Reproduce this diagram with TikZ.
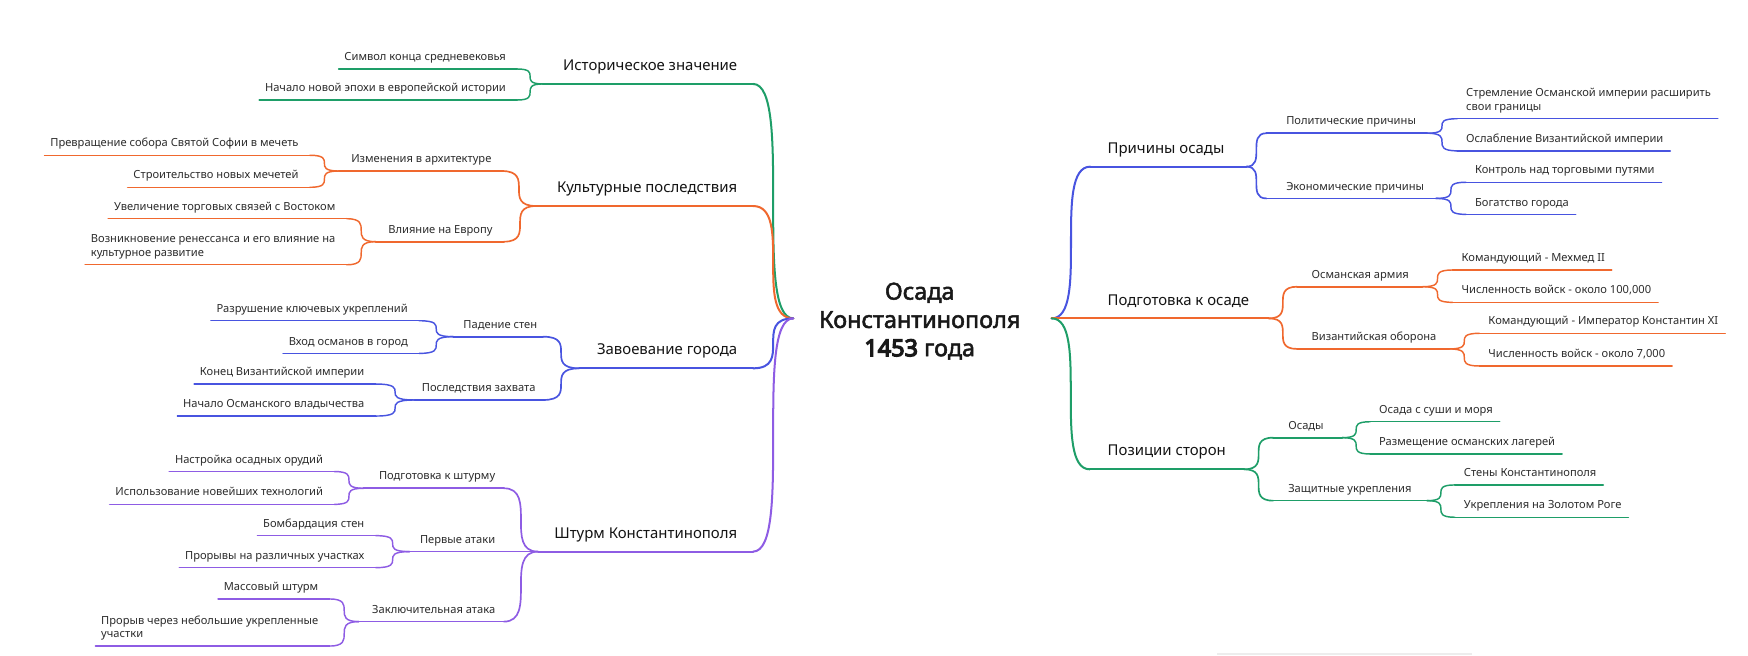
\documentclass[tikz,border=0pt]{standalone}
\usepackage{fontspec}
\setmainfont{Noto Sans}
\usetikzlibrary{calc}
\definecolor{cgreen}{RGB}{30,158,104}
\definecolor{corange}{RGB}{240,104,46}
\definecolor{cblue}{RGB}{72,84,224}
\definecolor{cpurple}{RGB}{142,92,228}
\definecolor{txt}{RGB}{45,45,45}
\newcommand\heavytext[2][0.45]{\special{pdf:literal direct 2 Tr #1 w}#2\special{pdf:literal direct 0 Tr 1 w}}
\tikzset{
  leaf/.style={inner sep=0pt, font=\fontsize{10}{12}\selectfont, text=txt},
  sub/.style={inner sep=0pt, font=\fontsize{10}{12}\selectfont, text=txt},
  mainlbl/.style={inner sep=0pt, font=\fontsize{13.4}{16}\selectfont, text=black!92},
  rootlbl/.style={inner sep=0pt, align=center, font=\fontsize{21}{25.4}\selectfont, text=black!90},
  lw3/.style={line width=1.3pt, line cap=round},
  lw2/.style={line width=1.5pt, line cap=round},
  lw1/.style={line width=1.8pt, line cap=round},
  br/.style={to path={.. controls (\tikztotarget |- \tikztostart) and (\tikztostart |- \tikztotarget) .. (\tikztotarget)}},
}
% leaf on the left side: name, colour, inner x, line y, text
\newcommand\LeafL[5]{%
  \coordinate (#1i) at (#3,#4);
  \node[leaf, anchor=base east] (#1) at ($(#1i)+(-10,-7.5)$) {#5};
  \draw[#2, lw3] (#1i) -- ($(#1i -| #1.west)+(-5,0)$);
}
\newcommand\LeafLtwo[5]{%
  \coordinate (#1i) at (#3,#4);
  \node[leaf, anchor=south east, align=left] (#1) at ($(#1i)+(-10,-5)$) {#5};
  \draw[#2, lw3] (#1i) -- ($(#1i -| #1.west)+(-5,0)$);
}
\newcommand\LeafR[5]{%
  \coordinate (#1i) at (#3,#4);
  \node[leaf, anchor=base west] (#1) at ($(#1i)+(8,-7.5)$) {#5};
  \draw[#2, lw3] (#1i) -- ($(#1i -| #1.east)+(6,0)$);
}
\newcommand\LeafRtwo[5]{%
  \coordinate (#1i) at (#3,#4);
  \node[leaf, anchor=south west, align=left] (#1) at ($(#1i)+(8,-5)$) {#5};
  \draw[#2, lw3] (#1i) -- ($(#1i -| #1.east)+(6,0)$);
}
% middle level: name, colour, inner x, outer x, y, text x, text
\newcommand\MidL[7]{%
  \coordinate (#1i) at (#3,#5);
  \coordinate (#1o) at (#4,#5);
  \node[sub, anchor=base east] (#1) at (#6,#5-7.5) {#7};
  \draw[#2, lw2] (#1i) -- (#1o);
}
\newcommand\MidR[7]{%
  \coordinate (#1i) at (#3,#5);
  \coordinate (#1o) at (#4,#5);
  \node[sub, anchor=base west] (#1) at (#6,#5-7.5) {#7};
  \draw[#2, lw2] (#1i) -- (#1o);
}
% first level: name, colour, inner x, outer x, y, text
\newcommand\MainL[6]{%
  \coordinate (#1i) at (#3,#5);
  \coordinate (#1o) at (#4,#5);
  \node[mainlbl, anchor=base east] (#1) at (661.5,#5-12) {#6};
  \draw[#2, lw1] (#1i) -- (#1o);
}
\newcommand\MainR[6]{%
  \coordinate (#1i) at (#3,#5);
  \coordinate (#1o) at (#4,#5);
  \node[mainlbl, anchor=base west] (#1) at (993.4,#5-12) {#6};
  \draw[#2, lw1] (#1i) -- (#1o);
}
\begin{document}
\begin{tikzpicture}[x=1pt,y=-1pt]
\fill[white] (0,0) rectangle (1568,588);
\useasboundingbox (0,0) rectangle (1568,588);

\node[rootlbl] (root) at (825,288) {\heavytext{Осада}\\\heavytext{Константинополя}\\\heavytext[1.1]{1453} \heavytext{года}};
\coordinate (hubL) at (711.6,285.6);
\coordinate (hubR) at (943.4,285.6);

% ---------- left: Историческое значение ----------
\MainL{H}{cgreen}{675.5}{487}{75.3}{Историческое значение}
\draw[cgreen,lw1] (hubL) to[br] (Hi);
\LeafL{Ha}{cgreen}{464}{61.9}{Символ конца средневековья}
\LeafL{Hb}{cgreen}{464}{89.7}{Начало новой эпохи в европейской истории}
\draw[cgreen,lw3] (Ho) to[br] (Hai);
\draw[cgreen,lw3] (Ho) to[br] (Hbi);

% ---------- left: Культурные последствия ----------
\MainL{C}{corange}{675.5}{481}{184.8}{Культурные последствия}
\draw[corange,lw1] (hubL) to[br] (Ci);
\MidL{Ca}{corange}{450}{304}{153.4}{441}{Изменения в архитектуре}
\MidL{Cb}{corange}{452}{337}{216.8}{442}{Влияние на Европу}
\draw[corange,lw2] (Co) to[br] (Cai);
\draw[corange,lw2] (Co) to[br] (Cbi);
\LeafL{Caa}{corange}{278}{139.3}{Превращение собора Святой Софии в мечеть}
\LeafL{Cab}{corange}{278}{168}{Строительство новых мечетей}
\draw[corange,lw3] (Cao) to[br] (Caai);
\draw[corange,lw3] (Cao) to[br] (Cabi);
\LeafL{Cba}{corange}{311}{196.2}{Увеличение торговых связей с Востоком}
\LeafLtwo{Cbb}{corange}{311}{237.5}{Возникновение ренессанса и его влияние на\\культурное развитие}
\draw[corange,lw3] (Cbo) to[br] (Cbai);
\draw[corange,lw3] (Cbo) to[br] (Cbbi);

% ---------- left: Завоевание города ----------
\MainL{Z}{cblue}{675.5}{519.6}{330.4}{Завоевание города}
\draw[cblue,lw1] (hubL) to[br] (Zi);
\MidL{Za}{cblue}{487}{406.6}{302}{482}{Падение стен}
\MidL{Zb}{cblue}{487}{371.8}{358.8}{480.6}{Последствия захвата}
\draw[cblue,lw2] (Zo) to[br] (Zai);
\draw[cblue,lw2] (Zo) to[br] (Zbi);
\LeafL{Zaa}{cblue}{376}{287.7}{Разрушение ключевых укреплений}
\LeafL{Zab}{cblue}{376}{317}{Вход османов в город}
\draw[cblue,lw3] (Zao) to[br] (Zaai);
\draw[cblue,lw3] (Zao) to[br] (Zabi);
\LeafL{Zba}{cblue}{337}{344.5}{Конец Византийской империи}
\LeafL{Zbb}{cblue}{337}{373.2}{Начало Османского владычества}
\draw[cblue,lw3] (Zbo) to[br] (Zbai);
\draw[cblue,lw3] (Zbo) to[br] (Zbbi);

% ---------- left: Штурм Константинополя ----------
\MainL{S}{cpurple}{675.5}{482.6}{494.8}{Штурм Константинополя}
\draw[cpurple,lw1] (hubL) to[br] (Si);
\MidL{Sa}{cpurple}{452}{326}{438}{444.4}{Подготовка к штурму}
\MidL{Sb}{cpurple}{482.6}{367.4}{494.8}{444.4}{Первые атаки}
\MidL{Sc}{cpurple}{452}{321.8}{557.6}{444.4}{Заключительная атака}
\draw[cpurple,lw2] (So) to[br] (Sai);
\draw[cpurple,lw2] (So) -- (Sbi);
\draw[cpurple,lw2] (So) to[br] (Sci);
\LeafL{Saa}{cpurple}{300}{423}{Настройка осадных орудий}
\LeafL{Sab}{cpurple}{300}{452.4}{Использование новейших технологий}
\draw[cpurple,lw3] (Sao) to[br] (Saai);
\draw[cpurple,lw3] (Sao) to[br] (Sabi);
\LeafL{Sba}{cpurple}{337}{480.5}{Бомбардация стен}
\LeafL{Sbb}{cpurple}{337}{509.2}{Прорывы на различных участках}
\draw[cpurple,lw3] (Sbo) to[br] (Sbai);
\draw[cpurple,lw3] (Sbo) to[br] (Sbbi);
\LeafL{Sca}{cpurple}{295.7}{537.3}{Массовый штурм}
\LeafLtwo{Scb}{cpurple}{295.7}{579.5}{Прорыв через небольшие укрепленные\\участки}
\draw[cpurple,lw3] (Sco) to[br] (Scai);
\draw[cpurple,lw3] (Sco) to[br] (Scbi);

% ---------- right: Причины осады ----------
\MainR{P}{cblue}{978}{1118}{149.5}{Причины осады}
\draw[cblue,lw1] (hubR) to[br] (Pi);
\MidR{Pa}{cblue}{1136}{1280}{119.5}{1153.6}{Политические причины}
\MidR{Pb}{cblue}{1136}{1288}{178}{1153.6}{Экономические причины}
\draw[cblue,lw2] (Po) to[br] (Pai);
\draw[cblue,lw2] (Po) to[br] (Pbi);
\LeafRtwo{Paa}{cblue}{1307}{106.5}{Стремление Османской империи расширить\\свои границы}
\LeafR{Pab}{cblue}{1307}{135.3}{Ослабление Византийской империи}
\draw[cblue,lw3] (Pao) to[br] (Paai);
\draw[cblue,lw3] (Pao) to[br] (Pabi);
\LeafR{Pba}{cblue}{1315}{163.5}{Контроль над торговыми путями}
\LeafR{Pbb}{cblue}{1315}{192.3}{Богатство города}
\draw[cblue,lw3] (Pbo) to[br] (Pbai);
\draw[cblue,lw3] (Pbo) to[br] (Pbbi);

% ---------- right: Подготовка к осаде ----------
\MainR{G}{corange}{943.4}{1138}{285.6}{Подготовка к осаде}
\draw[corange,lw1] (hubR) -- (Gi);
\MidR{Ga}{corange}{1163.5}{1276}{257.2}{1176.4}{Османская армия}
\MidR{Gb}{corange}{1163.5}{1300}{313}{1176.4}{Византийская оборона}
\draw[corange,lw2] (Go) to[br] (Gai);
\draw[corange,lw2] (Go) to[br] (Gbi);
\LeafR{Gaa}{corange}{1303}{242.2}{Командующий - Мехмед II}
\LeafR{Gab}{corange}{1303}{271.2}{Численность войск - около 100,000}
\draw[corange,lw3] (Gao) to[br] (Gaai);
\draw[corange,lw3] (Gao) to[br] (Gabi);
\LeafR{Gba}{corange}{1327}{299}{Командующий - Император Константин XI}
\LeafR{Gbb}{corange}{1327}{328.3}{Численность войск - около 7,000}
\draw[corange,lw3] (Gbo) to[br] (Gbai);
\draw[corange,lw3] (Gbo) to[br] (Gbbi);

% ---------- right: Позиции сторон ----------
\MainR{Q}{cgreen}{977.6}{1116}{421}{Позиции сторон}
\draw[cgreen,lw1] (hubR) to[br] (Qi);
\MidR{Qa}{cgreen}{1142}{1204}{392.6}{1155.4}{Осады}
\MidR{Qb}{cgreen}{1142}{1280}{449.1}{1155.4}{Защитные укрепления}
\draw[cgreen,lw2] (Qo) to[br] (Qai);
\draw[cgreen,lw2] (Qo) to[br] (Qbi);
\LeafR{Qaa}{cgreen}{1229}{378.3}{Осада с суши и моря}
\LeafR{Qab}{cgreen}{1229}{407.2}{Размещение османских лагерей}
\draw[cgreen,lw3] (Qao) to[br] (Qaai);
\draw[cgreen,lw3] (Qao) to[br] (Qabi);
\LeafR{Qba}{cgreen}{1305}{435}{Стены Константинополя}
\LeafR{Qbb}{cgreen}{1305}{464}{Укрепления на Золотом Роге}
\draw[cgreen,lw3] (Qbo) to[br] (Qbai);
\draw[cgreen,lw3] (Qbo) to[br] (Qbbi);

% faint bar at the bottom edge
\draw[black!7, line width=1.2pt] (1092,586.5) -- (1320,586.5);
\end{tikzpicture}
\end{document}
